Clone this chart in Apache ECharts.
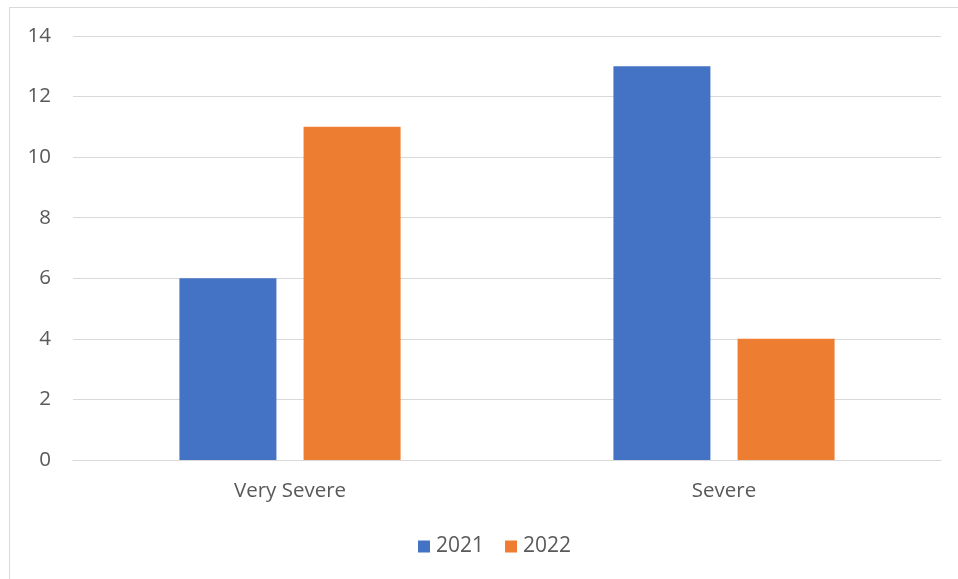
<!DOCTYPE html>
<html>
<head>
<meta charset="utf-8">
<script src="https://cdn.jsdelivr.net/npm/echarts@6/dist/echarts.min.js"></script>
<style>
  html, body { margin: 0; padding: 0; background: #fff; }
  #chart { width: 958px; height: 579px; }
</style>
</head>
<body>
<div id="chart"></div>
<script>
const categories = ['Very Severe', 'Severe'];
const seriesNames = ['2021', '2022'];
const values2021 = [6, 13];
const values2022 = [11, 4];
const yTicks = { min: 0, max: 14, interval: 2 };

const FONT = '"Open Sans", "Liberation Sans", sans-serif';
const TEXT = '#595959';

const chart = echarts.init(document.getElementById('chart'), null, { renderer: 'canvas' });
chart.setOption({
  animation: false,
  backgroundColor: '#fff',
  graphic: [{
    type: 'rect',
    shape: { x: 9.5, y: 7.5, width: 1000, height: 1000 },
    style: { fill: 'none', stroke: '#D9D9D9', lineWidth: 1 },
    silent: true
  }],
  grid: { left: 73, right: 17, top: 36, bottom: 119 },
  legend: {
    data: seriesNames,
    top: 531,
    left: 413,
    itemWidth: 12,
    itemHeight: 12,
    itemGap: 21,
    icon: 'rect',
    textStyle: { fontFamily: FONT, fontSize: 21, color: TEXT, padding: [0, 0, 0, 1] }
  },
  xAxis: {
    type: 'category',
    data: categories,
    axisLine: { lineStyle: { color: '#D9D9D9', width: 1 } },
    axisTick: { show: false },
    axisLabel: { fontFamily: FONT, fontSize: 20.5, color: TEXT, margin: 21 }
  },
  yAxis: {
    type: 'value',
    min: yTicks.min,
    max: yTicks.max,
    interval: yTicks.interval,
    axisLine: { show: false },
    axisTick: { show: false },
    splitLine: { lineStyle: { color: '#D9D9D9', width: 1 } },
    axisLabel: { fontFamily: FONT, fontSize: 20.5, color: TEXT, margin: 22 }
  },
  series: [
    {
      name: seriesNames[0], type: 'bar', data: values2021,
      itemStyle: { color: '#4472C4' },
      barWidth: 97, barGap: '28%'
    },
    {
      name: seriesNames[1], type: 'bar', data: values2022,
      itemStyle: { color: '#ED7D31' },
      barWidth: 97, barGap: '28%'
    }
  ]
});
</script>
</body>
</html>
